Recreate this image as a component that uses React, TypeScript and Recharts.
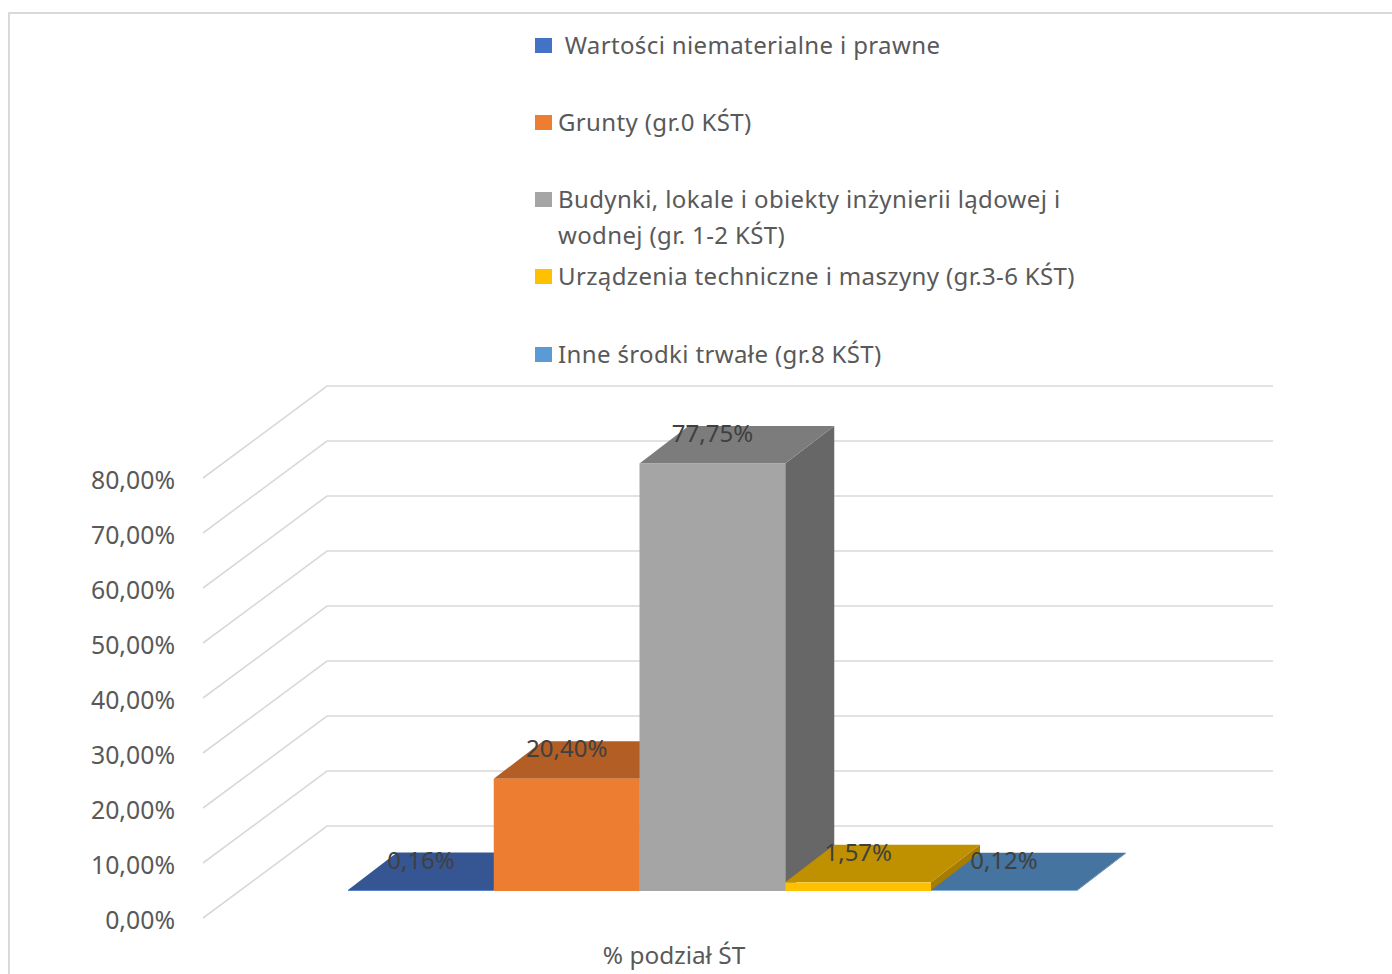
import React from "react";
import { BarChart, Bar, XAxis, YAxis, CartesianGrid, Legend, LabelList } from "recharts";

const categories = ["% podział ŚT"];
const seriesNames = [
  " Wartości niematerialne i prawne",
  "Grunty (gr.0 KŚT)",
  "Budynki, lokale i obiekty inżynierii lądowej i wodnej (gr. 1-2 KŚT)",
  "Urządzenia techniczne i maszyny (gr.3-6 KŚT)",
  "Inne środki trwałe (gr.8 KŚT)",
];
const seriesValues = [0.16, 20.4, 77.75, 1.57, 0.12];
const yTicks = [0, 10, 20, 30, 40, 50, 60, 70, 80];

const frontColors = ["#4472C4", "#ED7D31", "#A5A5A5", "#FFC000", "#5B9BD5"];
const topColors = ["#355692", "#B25E25", "#7C7C7C", "#BF9000", "#44749F"];
const sideColors = ["#2C4A80", "#9A5120", "#676767", "#A67D00", "#3A6489"];
const legendRowTops = [27, 104, 181, 258, 336];

const data = categories.map((name) => {
  const row: Record<string, string | number> = { name };
  seriesNames.forEach((s, i) => {
    row[`s${i}`] = seriesValues[i];
  });
  return row;
});

const FONT = '"Noto Sans", "Open Sans", sans-serif';
const TEXT = "#595959";
const GRID = "#D9D9D9";

// 3D projection of the wall/floor and of the bars
const WALL_DX = 124;
const WALL_DY = 92;
const BAR_FRONT_DX = 36.5;
const BAR_FRONT_DY = 27;
const BAR_DX = 49;
const BAR_DY = 37.5;
// recharts rounds bar widths to whole pixels; this takes the fraction back
const BAR_TRIM = 0.25;

const fmt = (v: number) => `${v.toFixed(2).replace(".", ",")}%`;

const gridLine = (p: any) => (
  <polyline
    key={p.key}
    points={`${p.x1},${p.y1} ${p.x1 + WALL_DX},${p.y1 - WALL_DY} ${p.x2 + WALL_DX},${p.y1 - WALL_DY}`}
    fill="none"
    stroke={GRID}
    strokeWidth={1.6}
  />
);

const makeShape = (i: number) => (p: any) => {
  const x = p.x + BAR_FRONT_DX - i * BAR_TRIM;
  const w = p.width - BAR_TRIM;
  const h = Math.abs(p.height);
  const bottom = p.y + h - BAR_FRONT_DY;
  const top = bottom - h;
  return (
    <g>
      <polygon
        points={`${x + w},${top} ${x + w + BAR_DX},${top - BAR_DY} ${x + w + BAR_DX},${bottom - BAR_DY} ${x + w},${bottom}`}
        fill={sideColors[i]}
      />
      <polygon
        points={`${x},${top} ${x + BAR_DX},${top - BAR_DY} ${x + w + BAR_DX},${top - BAR_DY} ${x + w},${top}`}
        fill={topColors[i]}
      />
      <rect x={x} y={top} width={w} height={h} fill={frontColors[i]} />
    </g>
  );
};

const makeLabel = (i: number) => (p: any) => (
  <text
    x={p.x + BAR_FRONT_DX - i * BAR_TRIM + p.width / 2}
    y={p.y - BAR_FRONT_DY - 31}
    textAnchor="middle"
    dominantBaseline="central"
    fontFamily={FONT}
    fontSize={24}
    fill="#404040"
  >
    {fmt(Number(p.value))}
  </text>
);

const renderYTick = (p: any) => (
  <text
    x={p.x}
    y={p.y + 0.5}
    textAnchor="end"
    dominantBaseline="central"
    fontFamily={FONT}
    fontSize={24.8}
    fill={TEXT}
  >
    {fmt(Number(p.payload.value))}
  </text>
);

const renderXTick = (p: any) => (
  <text
    x={p.x - 2}
    y={p.y}
    textAnchor="middle"
    dominantBaseline="central"
    fontFamily={FONT}
    fontSize={24.4}
    fill={TEXT}
  >
    {p.payload.value}
  </text>
);

const LegendContent = () => (
  <div
    style={{
      position: "relative",
      width: 560,
      height: 370,
      fontFamily: FONT,
      fontSize: 24,
      letterSpacing: "0.37px",
      color: TEXT,
    }}
  >
    {seriesNames.map((name, i) => (
      <div key={name} style={{ position: "absolute", left: 0, top: legendRowTops[i], display: "flex", alignItems: "flex-start" }}>
        <span
          style={{
            display: "block",
            width: 17,
            height: 15,
            marginTop: 11,
            marginRight: 6,
            flex: "none",
            background: frontColors[i],
          }}
        />
        <span style={{ display: "block", width: 530, lineHeight: "36px", whiteSpace: "pre-wrap" }}>{name}</span>
      </div>
    ))}
  </div>
);

export default function App() {
  return (
    <div style={{ position: "absolute", left: 0, top: 0, width: 1392, height: 974, background: "#fff", overflow: "hidden" }}>
      <div
        style={{
          position: "absolute",
          left: 8,
          top: 12,
          right: 0,
          bottom: 0,
          borderLeft: `2px solid ${GRID}`,
          borderTop: `2px solid ${GRID}`,
        }}
      />
      <div style={{ position: "absolute", left: 0, top: 0 }}>
        <BarChart
          width={1392}
          height={974}
          data={data}
          margin={{ top: 478, right: 243, bottom: 0, left: 93 }}
          barGap={0}
          barCategoryGap="11.47%"
        >
          <CartesianGrid vertical={false} horizontal={gridLine} />
          <XAxis
            dataKey="name"
            axisLine={false}
            tickLine={false}
            height={56}
            tickSize={0}
            tickMargin={36}
            tick={renderXTick}
          />
          <YAxis
            width={110}
            domain={[0, 80]}
            ticks={yTicks}
            axisLine={false}
            tickLine={false}
            tickSize={0}
            tickMargin={28}
            tick={renderYTick}
          />
          <Legend
            align="center"
            verticalAlign="middle"
            content={LegendContent}
            wrapperStyle={{ position: "absolute", left: 535, top: 0, width: 560, height: 370, bottom: "auto", right: "auto" }}
          />
          {seriesNames.map((name, i) => (
            <Bar key={name} dataKey={`s${i}`} name={name} shape={makeShape(i)} isAnimationActive={false}>
              <LabelList dataKey={`s${i}`} content={makeLabel(i)} />
            </Bar>
          ))}
        </BarChart>
      </div>
    </div>
  );
}
